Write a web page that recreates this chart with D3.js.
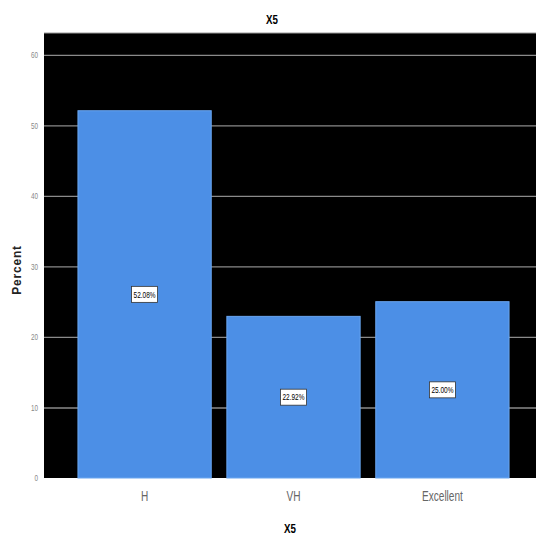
<!DOCTYPE html>
<html>
<head>
    <meta charset="utf-8">
    <style> body { margin: 0; background: #fff; } </style>
    <script src="https://d3js.org/d3.v7.min.js"></script>
</head>
<body>
<div id="chart"></div>
<script>

    var categories = ["H", "VH", "Excellent"];
    var percents = [52.08, 22.92, 25.00];
    var labels = ["52.08%", "22.92%", "25.00%"];
    var yTicks = [0, 10, 20, 30, 40, 50, 60];

    var W = 536, H = 535;
    var plot = { left: 44, right: 536, top: 33, bottom: 478 };
    var narrow = "'Liberation Sans', Arial, sans-serif";

    // squeeze text horizontally, the original uses a condensed face
    function squeeze(sel, k) {
        sel.each(function() {
            var w = this.getComputedTextLength();
            d3.select(this).attr("textLength", w * k).attr("lengthAdjust", "spacingAndGlyphs");
        });
    }

    var svg = d3.select("#chart").append("svg")
        .attr("width", W)
        .attr("height", H);

    var x = d3.scaleBand()
        .domain(categories)
        .range([plot.left, 543])
        .paddingInner(0.105)
        .paddingOuter(0.228);

    var y = d3.scaleLinear()
        .domain([0, 63.1])
        .range([plot.bottom, plot.top]);

    // black plot background
    svg.append("rect")
        .attr("x", plot.left)
        .attr("y", plot.top)
        .attr("width", plot.right - plot.left)
        .attr("height", plot.bottom - plot.top)
        .attr("fill", "#000");

    svg.append("line")
        .attr("x1", plot.left).attr("x2", plot.right)
        .attr("y1", plot.top).attr("y2", plot.top)
        .attr("stroke", "#999").attr("stroke-width", 1);

    // gridlines + y axis
    var yAxis = svg.append("g")
        .attr("transform", "translate(" + plot.left + ",0)")
        .call(d3.axisLeft(y).tickValues(yTicks.slice(1)).tickSize(-(plot.right - plot.left)).tickPadding(6));
    yAxis.select(".domain").remove();
    yAxis.selectAll(".tick line").attr("stroke", "#8a8a8a").attr("stroke-width", 1.3);

    var zero = svg.append("g")
        .attr("transform", "translate(" + plot.left + ",0)")
        .call(d3.axisLeft(y).tickValues([0]).tickSize(0).tickPadding(6));
    zero.select(".domain").remove();

    svg.selectAll(".tick text")
        .attr("fill", "#888")
        .style("font-family", narrow)
        .style("font-size", "9px")
        .call(squeeze, 0.7);

    // bars
    svg.append("g").selectAll("rect")
        .data(percents)
        .join("rect")
        .attr("x", (d, i) => x(categories[i]))
        .attr("y", d => y(d))
        .attr("width", x.bandwidth())
        .attr("height", d => y(0) - y(d))
        .attr("fill", "#4c8fe6")
        .attr("stroke", "#6aa6f0")
        .attr("stroke-width", 1);

    // value labels
    var lab = svg.append("g").selectAll("g")
        .data(percents)
        .join("g")
        .attr("transform", (d, i) => "translate(" + (x(categories[i]) + x.bandwidth() / 2) + "," + y(d / 2) + ")");
    lab.append("rect")
        .attr("x", -13).attr("y", -8)
        .attr("width", 26).attr("height", 16)
        .attr("fill", "#fff")
        .attr("stroke", "#333").attr("stroke-width", 0.8);
    lab.append("text")
        .attr("text-anchor", "middle")
        .attr("dy", "0.35em")
        .attr("fill", "#000")
        .style("font-family", narrow)
        .style("font-size", "9px")
        .text((d, i) => labels[i])
        .attr("textLength", 22)
        .attr("lengthAdjust", "spacingAndGlyphs");

    // x axis category labels
    var xAxis = svg.append("g")
        .attr("transform", "translate(0," + plot.bottom + ")")
        .call(d3.axisBottom(x).tickSize(0).tickPadding(13));
    xAxis.select(".domain").remove();
    xAxis.selectAll("text")
        .attr("fill", "#666")
        .style("font-family", narrow)
        .style("font-size", "14px")
        .call(squeeze, 0.72);

    // titles
    svg.append("text")
        .attr("x", 272).attr("y", 24)
        .attr("text-anchor", "middle")
        .style("font-family", narrow)
        .style("font-weight", "bold")
        .style("font-size", "13px")
        .text("X5")
        .call(squeeze, 0.75);

    svg.append("text")
        .attr("x", 290).attr("y", 533)
        .attr("text-anchor", "middle")
        .style("font-family", narrow)
        .style("font-weight", "bold")
        .style("font-size", "13px")
        .text("X5")
        .call(squeeze, 0.75);

    svg.append("text")
        .attr("transform", "translate(21,270) rotate(-90)")
        .attr("text-anchor", "middle")
        .style("font-family", narrow)
        .style("font-weight", "bold")
        .style("font-size", "12px")
        .style("letter-spacing", "0.8px")
        .attr("fill", "#222")
        .text("Percent");

</script>
</body>
</html>
